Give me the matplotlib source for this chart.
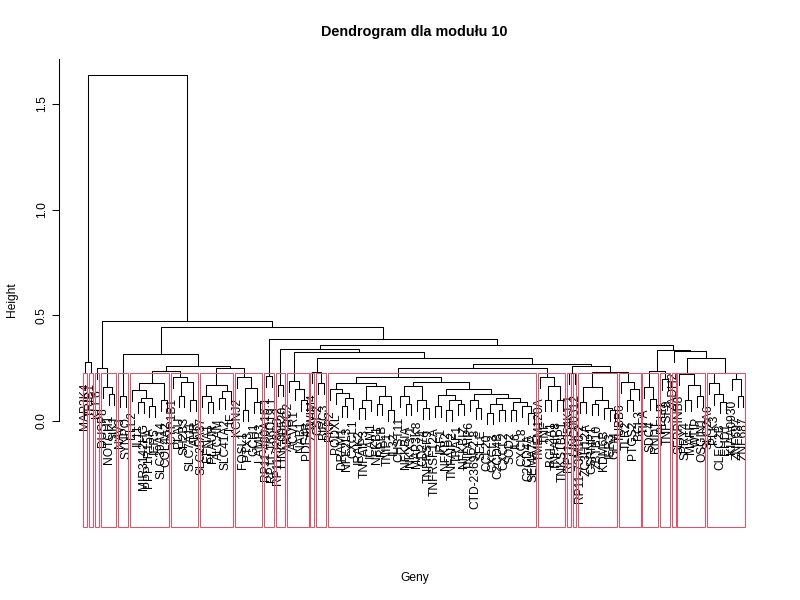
import numpy as np
import matplotlib
matplotlib.use("Agg")
import matplotlib.pyplot as plt
from matplotlib.patches import Rectangle

plt.rcParams['font.family'] = ['Liberation Sans', 'DejaVu Sans']

# leaf labels in dendrogram order
labels = [
    "MAP3K4", "TRIB1", "KLF6", "DUSP8", "NOTCH1", "SIK1", "NAV3", "SYNPO",
    "ELL2", "IL11", "MIR3142HG", "PPP1R15A", "IER5", "SLC39A14", "COL4A2",
    "CYP1B1", "PLAU", "SH2B3", "SLC7A11", "AHR", "SLC25A37", "EFNA1", "PLAUR",
    "ALCAM", "SLC41A2", "LIF", "KCNJ2", "FOSL1", "PTX3", "GCH1", "LAMB3",
    "RP11-480A16.1", "RP11-166D19.1", "RP11-326C3.2", "LINC00520", "ARRDC2",
    "ACVR1", "NAB1", "PDE4B", "ZSWIM4", "CSF2", "BIRC3", "PKP2", "PODXL",
    "DRAM1", "NFE2L3", "CXCL1", "IRAK2", "TNFAIP3", "ICAM1", "NFKB1", "RELB",
    "TNIP1", "IL32", "CHST11", "NFKBIA", "NKX3-1", "MAP3K8", "CD274",
    "TNFRSF9", "TNFRSF12A", "IRF1", "NFKB2", "TNFAIP2", "TRAF1", "NFKBIZ",
    "TNFAIP6", "CTD-2369P2.8", "SELE", "CCL20", "CXCL3", "C2CD4B", "CXCL2",
    "SOD2", "IL6", "CXCL8", "C2CD4A", "SEMA7A", "TMEM120A", "TNF", "BCL2A1",
    "TNFAIP8", "TNKS1BP1", "RP11-354K1.1", "LINC00312", "RP11-73M18.2",
    "ZC3H12A", "CSRNP1", "ZBTB10", "KDM6B", "IER3", "GEM", "TUBB6", "TLR2",
    "PTGS2", "BCL3", "TIFA", "SDC4", "RND1", "PELI1", "TNFSF9", "ZADH2",
    "SERPINB8", "SPRY4", "MAFF", "WTIP", "OSGIN1", "SLC2A6", "PLK3", "CLEC2B",
    "EHD1", "KIAA0930", "ZNF697", "ZNF687",
]

# merges as (left, right, height); ints are leaf positions (1-based)
c04 = (4, (5, 6, 0.128), 0.163)
c05 = (7, 8, 0.118)
c06 = ((9, ((10, 11, 0.09), (12, 13, 0.07), 0.11), 0.145), (14, 15, 0.10), 0.178)
c07 = (16, ((17, 18, 0.12), (19, 20, 0.10), 0.186), 0.21)
c08 = ((21, (22, 23, 0.09), 0.12), ((24, 25, 0.11), 26, 0.14), 0.17)
c09 = (27, ((28, 29, 0.05), (30, 31, 0.09), 0.155), 0.21)
c10 = (32, 33, 0.215)
c11 = (34, 35, 0.17)
c12 = (36, (37, (38, 39, 0.10), 0.15), 0.19)
c14 = (41, 42, 0.18)
big_ll = (43, (44, ((45, 46, 0.07), 47, 0.107), 0.134), 0.15)
big_lr = (((48, 49, 0.06), 50, 0.10), ((51, 52, 0.08), (53, 54, 0.05), 0.12), 0.165)
big_rl = ((55, (56, 57, 0.08), 0.12), (58, (59, 60, 0.06), 0.10), 0.166)
big_rr1 = ((61, 62, 0.07), ((63, 64, 0.05), (65, 66, 0.08), 0.10), 0.125)
big_rr2 = ((67, (68, 69, 0.06), 0.10),
           (((70, 71, 0.04), (72, 73, 0.05), 0.08),
            ((74, 75, 0.05), (76, (77, 78, 0.04), 0.07), 0.09), 0.11), 0.13)
c15 = ((big_ll, big_lr, 0.18), (big_rl, (big_rr1, big_rr2, 0.15), 0.186), 0.207)
c16 = (79, ((80, 81, 0.10), (82, 83, 0.10), 0.165), 0.21)
c19 = ((86, 87, 0.09), ((88, 89, 0.08), (90, (91, 92, 0.05), 0.06), 0.10), 0.163)
c20 = (93, ((94, 95, 0.10), 96, 0.15), 0.185)
c21 = (97, (98, 99, 0.103), 0.16)
c22 = (100, 101, 0.198)
c24 = (103, ((104, 105, 0.10), (106, 107, 0.12), 0.17), 0.222)
c25 = ((108, (109, (110, 111, 0.09), 0.13), 0.18), (112, (113, 114, 0.12), 0.20), 0.225)

left_mid = (c05, ((c06, c07, 0.237), (c08, c09, 0.25), 0.26), 0.317)
mid = (c11, (c12, ((40, c14, 0.232),
                   ((c15, c16, 0.25), ((84, 85, 0.229), (c19, c20, 0.232), 0.26), 0.27),
                   0.30), 0.325), 0.34)
right = ((c21, c22, 0.235), (102, (c24, c25, 0.297), 0.333), 0.338)
tree = ((1, 2, 0.28), ((3, c04, 0.25), (left_mid, (c10, (mid, right, 0.36), 0.39), 0.445), 0.474), 1.635)

k = 25
hang = 0.052
offset = 0.047

n = len(labels)


def heights(node):
    if isinstance(node, int):
        return []
    return heights(node[0]) + heights(node[1]) + [node[2]]


def span(node):
    if isinstance(node, int):
        return node, node
    a, _ = span(node[0])
    _, b = span(node[1])
    return a, b


hs = sorted(heights(tree), reverse=True)
cut_h = (hs[k - 2] + hs[k - 1]) / 2


def groups(node):
    if isinstance(node, int) or node[2] < cut_h:
        return [span(node)]
    return groups(node[0]) + groups(node[1])


fig = plt.figure(figsize=(8, 6), dpi=100)
ax = fig.add_axes([59 / 800, 73.4 / 600, 710.8 / 800, 467.6 / 600])


def draw(node):
    l, r, h = node
    pts = []
    for child in (l, r):
        if isinstance(child, int):
            x, yb = child, h - hang
            ax.text(x, yb - offset, labels[child - 1], rotation=90,
                    ha='center', va='top', fontsize=8.64)
        else:
            x, yb = draw(child)
        pts.append((x, yb))
    (xl, yl), (xr, yr) = pts
    ax.plot([xl, xl, xr, xr], [yl, h, h, yr], color='black', lw=0.75)
    return (xl + xr) / 2, h


draw(tree)

ext = 0.04 * (n - 1)
ax.set_xlim(1 - ext, n + ext)
ax.set_ylim(-0.4997, 1.713)

# rect.hclust style boxes around the k clusters
for a, b in groups(tree):
    ax.add_patch(Rectangle((a - 0.34, -0.4997), (b + 0.33) - (a - 0.34), cut_h + 0.4997,
                           fill=False, edgecolor='#DF536B', lw=0.75, clip_on=False, zorder=3))

for s in ['top', 'right', 'bottom']:
    ax.spines[s].set_visible(False)
ax.spines['left'].set_bounds(0, 1.713)
ax.spines['left'].set_linewidth(0.75)
ax.set_xticks([])
ax.set_yticks([0, 0.5, 1.0, 1.5])
ax.set_yticklabels(['0.0', '0.5', '1.0', '1.5'], fontsize=8.64)
ax.tick_params(axis='y', direction='out', length=5.2, width=0.75, pad=3, labelrotation=90)
for t in ax.get_yticklabels():
    t.set_va('center')

fig.text(414.4 / 800, 1 - 32 / 600, "Dendrogram dla modułu 10", ha='center', va='center',
         fontsize=10.4, fontweight='bold')
fig.text(414.4 / 800, 1 - 578 / 600, "Geny", ha='center', va='center', fontsize=8.64)
fig.text(12 / 800, 1 - 300 / 600, "Height", ha='center', va='center', rotation=90, fontsize=8.64)

fig.savefig("out.png", dpi=100)
